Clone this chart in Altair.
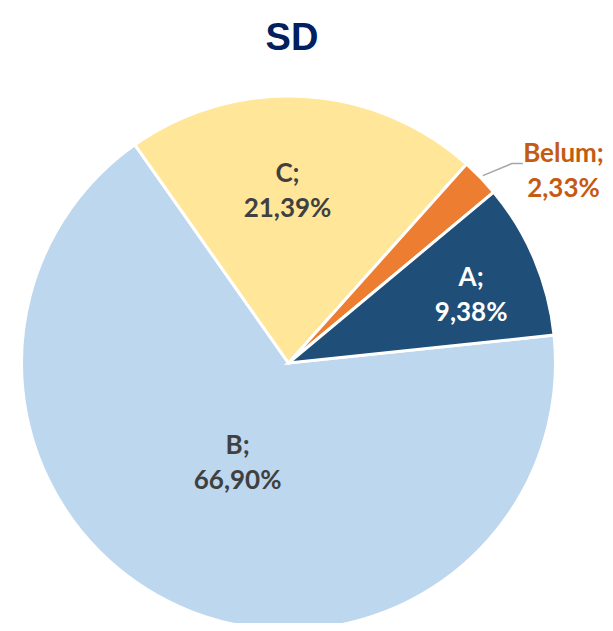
import math
import altair as alt
import pandas as pd

categories = ["B", "C", "Belum", "A"]
values = [66.90, 21.39, 2.33, 9.38]
colors = ["#BDD7EE", "#FFE699", "#ED7D31", "#1F4E79"]

df = pd.DataFrame({"cat": categories, "val": values, "ord": list(range(len(categories)))})
total = sum(values)

CX, CY, R = 280.5, 295, 267
start_deg = 84.0
theta_scale = alt.Scale(domain=[0, total], range=[math.radians(start_deg), math.radians(start_deg) + 2 * math.pi])
color_scale = alt.Scale(domain=categories, range=colors)

base = (
    alt.Chart(df)
    .transform_window(cum="sum(val)", sort=[alt.SortField("ord")], frame=[None, 0])
    .transform_calculate(
        start="datum.cum - datum.val",
        mid="datum.cum - datum.val / 2",
        label="datum.cat + ';\\n' + replace(format(datum.val, '.2f'), '.', ',') + '%'",
    )
)

arcs = base.mark_arc(radius=R, stroke="white", strokeWidth=3).encode(
    theta=alt.Theta("start:Q", scale=theta_scale),
    theta2="cum:Q",
    color=alt.Color("cat:N", scale=color_scale, legend=None),
    x=alt.value(CX),
    y=alt.value(CY),
)

LH = 35

def label(cat, radius, color, dx=0, dy=0):
    return base.transform_filter(alt.datum.cat == cat).mark_text(
        radius=radius, font="Lato", fontSize=26, fontWeight="bold", color=color,
        lineBreak="\n", lineHeight=LH, align="center", baseline="middle",
        dx=dx, dy=dy - LH / 2,
    ).encode(
        theta=alt.Theta("mid:Q", scale=theta_scale),
        text="label:N",
        x=alt.value(CX),
        y=alt.value(CY),
    )

# leader line for the small slice, derived from its mid angle
cum = 0
for c, v in zip(categories, values):
    if c == "Belum":
        mid_val = cum + v / 2
    cum += v
ang = math.radians(start_deg) + 2 * math.pi * mid_val / total
p0 = (CX + (R + 3) * math.sin(ang), CY - (R + 3) * math.cos(ang))
p1 = (p0[0] + 29, p0[1] - 12)
p2 = (p1[0] + 11, p1[1])
leader = pd.DataFrame({"x": [p0[0], p1[0], p2[0]], "y": [p0[1], p1[1], p2[1]], "i": [0, 1, 2]})
leader_line = alt.Chart(leader).mark_line(color="#A6A6A6", strokeWidth=1.5).encode(
    x=alt.X("x:Q", scale=None, axis=None),
    y=alt.Y("y:Q", scale=None, axis=None),
    order="i:Q",
)

chart = alt.layer(
    arcs,
    leader_line,
    label("C", 172, "#404040", dx=-11),
    label("A", 195, "#FFFFFF", dx=3, dy=8),
    label("B", 111, "#404040", dx=-5, dy=-1),
    label("Belum", 339, "#C55A11", dx=31, dy=44),
).properties(
    width=568,
    height=555,
    autosize=alt.AutoSizeParams(type="none"),
    padding={"top": 60, "left": 0, "right": 29, "bottom": 0},
    title=alt.TitleParams("SD", font="Liberation Sans", fontSize=38, fontWeight="bold", color="#002060", anchor="middle", offset=10),
).configure_view(stroke=None)

chart.save("out.html", embed_options={"renderer": "svg", "actions": False})
